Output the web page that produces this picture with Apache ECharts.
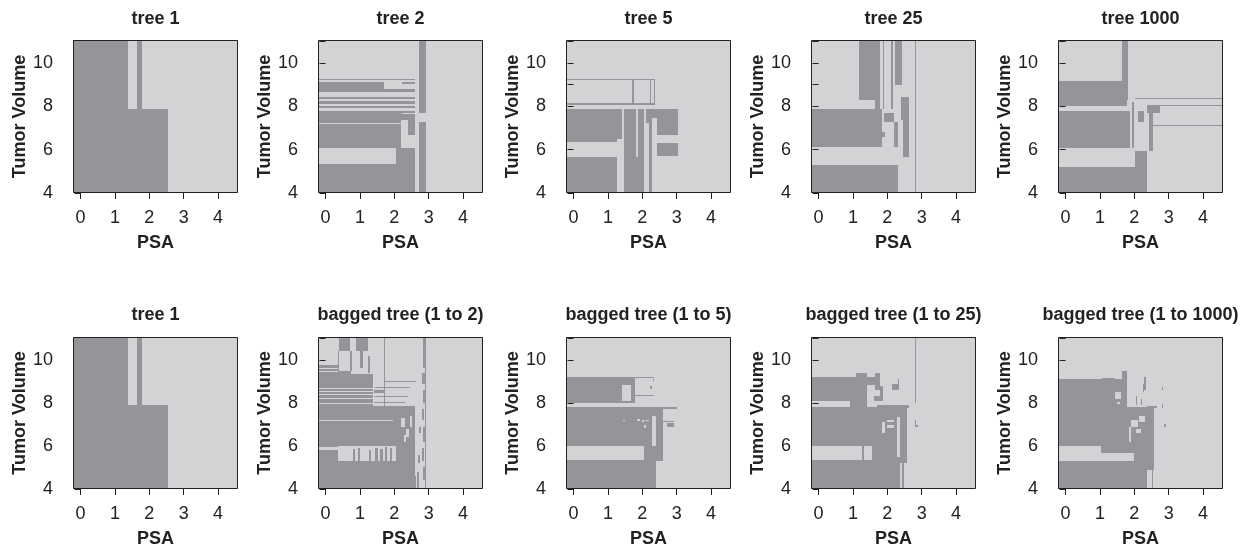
<!DOCTYPE html>
<html><head><meta charset="utf-8">
<script src="https://cdn.jsdelivr.net/npm/echarts@6/dist/echarts.min.js"></script>
<style>html,body{margin:0;padding:0;background:#fff}#chart{width:1250px;height:551px}</style>
</head><body><div id="chart"></div>
<script>
// ---------- data ----------
const panelTitles = ['tree 1', 'tree 2', 'tree 5', 'tree 25', 'tree 1000',
  'tree 1', 'bagged tree (1 to 2)', 'bagged tree (1 to 5)', 'bagged tree (1 to 25)', 'bagged tree (1 to 1000)'];
const xName = 'PSA';
const yName = 'Tumor Volume';
const xTickValues = [0, 1, 2, 3, 4];
const yTickValues = [4, 5, 6, 7, 8, 9, 10, 11];
const yLabelValues = [4, 6, 8, 10];

// regions: [psaFrom, psaTo, volumeFrom, volumeTo, class]  class 1 = dark, 0 = light (painted in order)
const tree1 = [
  [-0.3, 1.39, 4, 11.2, 1],
  [1.63, 1.78, 7.88, 11.2, 1],
  [1.39, 2.55, 4, 7.88, 1]
];
const tree2 = [
  [-0.3, 2.61, 4, 7.80, 1],
  [-0.3, 2.06, 5.33, 6.06, 0],
  [-0.3, 2.20, 7.19, 7.22, 0],
  [2.20, 2.40, 6.06, 7.37, 0],
  [2.20, 2.61, 6.06, 6.52, 0],
  [2.40, 2.61, 6.52, 6.68, 0],
  [2.23, 2.61, 7.64, 7.68, 0],
  [-0.3, 2.61, 7.90, 8.02, 1],
  [-0.3, 2.61, 8.11, 8.24, 1],
  [-0.3, 2.61, 8.33, 8.42, 1],
  [-0.3, 2.61, 8.64, 8.79, 1],
  [-0.3, 1.69, 8.79, 9.13, 1],
  [2.23, 2.61, 9.01, 9.13, 1],
  [-0.3, 2.61, 9.23, 9.27, 1],
  [2.72, 2.91, 7.68, 11.2, 1],
  [2.72, 2.91, 4, 7.29, 1]
];
const tree5 = [
  [-0.3, 2.38, 9.20, 9.27, 1],
  [-0.3, 2.38, 8.07, 8.13, 1],
  [2.33, 2.38, 8.07, 9.27, 1],
  [1.71, 1.75, 8.07, 9.27, 1],
  [2.21, 2.25, 8.07, 9.27, 1],
  [-0.3, 1.41, 6.47, 7.88, 1],
  [-0.3, 1.27, 6.35, 6.47, 1],
  [-0.3, 1.27, 4, 5.67, 1],
  [1.46, 2.05, 4, 7.88, 1],
  [1.82, 1.87, 5.67, 7.88, 0],
  [2.12, 3.05, 7.45, 7.88, 1],
  [2.12, 2.20, 7.25, 7.45, 1],
  [2.20, 2.27, 4, 7.45, 1],
  [2.44, 3.05, 6.68, 7.45, 1],
  [2.44, 3.05, 5.70, 6.32, 1]
];
const tree25 = [
  [1.19, 1.80, 8.30, 11.2, 1],
  [1.65, 1.80, 7.88, 8.30, 1],
  [1.87, 1.91, 7.88, 11.2, 1],
  [2.11, 2.16, 7.88, 11.2, 1],
  [2.23, 2.43, 8.99, 11.2, 1],
  [2.40, 2.62, 7.37, 8.41, 1],
  [2.46, 2.62, 5.67, 7.37, 1],
  [-0.3, 1.84, 6.13, 7.88, 1],
  [1.89, 2.20, 7.29, 7.71, 1],
  [1.84, 1.94, 6.60, 6.83, 1],
  [2.18, 2.30, 6.13, 7.29, 1],
  [-0.3, 2.30, 4, 5.31, 1],
  [2.805, 2.835, 4, 11.2, 1]
];
const tree1000 = [
  [1.64, 1.83, 9.18, 11.2, 1],
  [-0.3, 1.78, 8.02, 9.18, 1],
  [1.78, 1.83, 8.30, 9.18, 1],
  [-0.3, 1.87, 6.06, 7.79, 1],
  [1.92, 2.00, 6.06, 8.18, 1],
  [2.02, 2.36, 4, 5.93, 1],
  [-0.3, 2.36, 4, 5.21, 1],
  [2.12, 2.27, 7.29, 7.79, 1],
  [2.36, 2.75, 7.71, 8.07, 1],
  [2.43, 2.55, 5.95, 7.71, 1],
  [2.02, 4.70, 8.35, 8.40, 1],
  [2.75, 4.70, 8.05, 8.08, 1],
  [2.53, 4.70, 7.12, 7.16, 1]
];
const bagged2 = [
  [-0.3, 2.59, 4, 7.80, 1],
  [2.59, 2.64, 4, 4.6, 1],
  [0.36, 2.06, 5.28, 6.01, 0],
  [-0.3, 0.36, 5.82, 5.95, 0],
  [0.80, 0.86, 5.30, 5.85, 1],
  [0.95, 1.00, 5.30, 5.90, 1],
  [1.27, 1.32, 5.30, 5.80, 1],
  [1.45, 1.52, 5.30, 5.90, 1],
  [1.58, 1.66, 5.30, 5.85, 1],
  [1.72, 1.80, 5.30, 5.95, 1],
  [1.86, 1.92, 5.30, 5.90, 1],
  [-0.3, 1.96, 7.17, 7.21, 0],
  [2.20, 2.30, 6.90, 7.30, 0],
  [2.35, 2.42, 6.40, 6.80, 0],
  [2.47, 2.52, 6.90, 7.40, 0],
  [2.28, 2.34, 6.20, 6.50, 0],
  [-0.3, 1.38, 7.80, 9.23, 1],
  [-0.3, 1.38, 8.66, 8.70, 0],
  [-0.3, 1.38, 8.52, 8.57, 0],
  [-0.3, 1.38, 8.36, 8.40, 0],
  [-0.3, 1.38, 8.20, 8.24, 0],
  [-0.3, 1.38, 7.96, 8.00, 0],
  [1.38, 2.59, 7.80, 7.86, 1],
  [1.45, 2.45, 8.70, 8.74, 1],
  [1.45, 2.40, 8.30, 8.34, 1],
  [1.40, 2.30, 8.02, 8.06, 1],
  [1.72, 2.64, 8.98, 9.02, 1],
  [1.40, 1.70, 8.45, 8.60, 1],
  [1.70, 1.74, 7.80, 11.2, 1],
  [0.39, 0.70, 10.39, 11.2, 1],
  [0.89, 1.23, 10.39, 11.2, 1],
  [2.83, 2.91, 10.39, 11.2, 1],
  [-0.3, 0.36, 9.23, 9.77, 1],
  [-0.3, 0.36, 9.60, 9.64, 0],
  [-0.3, 0.36, 9.42, 9.46, 0],
  [0.36, 0.75, 9.23, 9.50, 1],
  [0.75, 1.38, 9.23, 9.35, 1],
  [0.70, 0.78, 9.50, 10.39, 1],
  [0.99, 1.08, 9.60, 10.39, 1],
  [1.23, 1.30, 9.40, 10.20, 1],
  [0.36, 0.39, 9.23, 10.39, 1],
  [2.82, 2.90, 9.60, 10.39, 1],
  [2.80, 2.88, 8.90, 9.40, 1],
  [2.84, 2.91, 8.00, 8.60, 1],
  [2.80, 2.87, 7.20, 7.70, 1],
  [2.82, 2.90, 6.20, 6.90, 1],
  [2.80, 2.86, 5.30, 5.90, 1],
  [2.84, 2.91, 4.40, 5.00, 1],
  [2.66, 2.72, 4.00, 4.80, 1],
  [2.70, 2.76, 5.20, 5.60, 1],
  [2.72, 2.78, 6.60, 6.90, 1],
  [2.89, 2.91, 4.00, 10.39, 1]
];
const bagged5 = [
  [-0.3, 1.76, 7.99, 9.20, 1],
  [1.41, 1.66, 8.11, 8.84, 0],
  [1.76, 2.35, 9.17, 9.22, 1],
  [1.77, 1.80, 7.99, 9.20, 1],
  [1.80, 2.35, 8.31, 8.35, 1],
  [2.22, 2.27, 8.65, 8.80, 1],
  [2.30, 2.33, 9.00, 9.10, 1],
  [-0.3, 2.59, 5.28, 7.83, 1],
  [-0.3, 2.05, 5.35, 6.00, 0],
  [2.27, 2.39, 6.00, 7.37, 0],
  [-0.3, 2.39, 4, 5.28, 1],
  [1.85, 1.92, 7.15, 7.25, 0],
  [1.98, 2.05, 7.10, 7.20, 0],
  [2.08, 2.18, 7.14, 7.20, 0],
  [2.05, 2.12, 6.85, 6.95, 0],
  [1.45, 1.50, 7.18, 7.22, 0],
  [2.59, 3.02, 7.71, 7.80, 1],
  [2.73, 2.93, 6.90, 7.05, 1],
  [2.59, 2.93, 7.10, 7.14, 1]
];
const bagged25 = [
  [2.805, 2.835, 7.99, 11.2, 1],
  [2.80, 2.83, 6.90, 7.20, 1],
  [2.83, 2.90, 6.90, 6.95, 1],
  [-0.3, 1.41, 8.07, 9.20, 1],
  [1.10, 1.41, 9.20, 9.41, 1],
  [1.41, 1.65, 8.84, 9.20, 1],
  [1.65, 1.80, 8.61, 9.41, 1],
  [0.92, 1.41, 7.83, 8.07, 1],
  [-0.3, 2.57, 5.33, 7.83, 1],
  [-0.3, 1.26, 5.33, 6.00, 0],
  [1.31, 1.55, 5.33, 6.00, 0],
  [-0.3, 2.38, 4, 5.33, 1],
  [2.38, 2.57, 5.20, 5.33, 1],
  [2.44, 2.48, 4, 5.33, 1],
  [1.85, 1.93, 6.60, 7.10, 0],
  [2.00, 2.20, 7.10, 7.20, 0],
  [2.00, 2.20, 6.85, 6.95, 0],
  [2.28, 2.36, 5.50, 7.35, 0],
  [1.80, 1.88, 8.10, 8.80, 1],
  [2.14, 2.33, 8.60, 8.90, 1],
  [2.30, 2.35, 8.90, 9.10, 1],
  [1.60, 1.80, 8.07, 8.30, 1],
  [1.70, 2.62, 7.78, 7.88, 1]
];
const bagged1000 = [
  [-0.3, 1.41, 6.00, 9.10, 1],
  [1.05, 1.45, 9.10, 9.17, 1],
  [1.41, 1.65, 8.60, 9.10, 1],
  [1.65, 1.80, 8.30, 9.50, 1],
  [1.41, 1.80, 7.83, 8.60, 1],
  [1.45, 1.60, 8.20, 8.50, 0],
  [1.50, 1.58, 7.95, 8.05, 0],
  [1.41, 2.38, 6.00, 7.83, 1],
  [1.90, 2.10, 6.90, 7.20, 0],
  [2.15, 2.30, 7.10, 7.40, 0],
  [2.05, 2.20, 6.60, 6.80, 0],
  [1.85, 1.90, 6.20, 6.90, 0],
  [2.36, 2.65, 7.78, 7.86, 1],
  [-0.3, 2.38, 5.30, 6.00, 1],
  [-0.3, 1.02, 5.64, 6.00, 0],
  [-0.3, 2.00, 5.30, 5.67, 0],
  [-0.3, 2.36, 4, 5.30, 1],
  [2.36, 2.56, 4.90, 7.83, 1],
  [2.50, 2.55, 4, 4.90, 1],
  [2.29, 2.34, 8.60, 9.20, 1],
  [2.25, 2.28, 8.50, 8.90, 1],
  [2.80, 2.84, 8.60, 8.75, 1],
  [2.80, 2.84, 7.75, 7.95, 1],
  [2.85, 2.92, 6.90, 7.00, 1],
  [2.05, 2.08, 7.90, 8.30, 1],
  [2.20, 2.23, 7.90, 8.20, 1]
];
const panelData = [tree1, tree2, tree5, tree25, tree1000, tree1, bagged2, bagged5, bagged25, bagged1000];

// ---------- layout / style ----------
const DARK = '#939598', LIGHT = '#d1d3d4', INK = '#222222';
const FONT = '"Liberation Sans", Arial, Helvetica, sans-serif';
const gridLefts = [73, 318, 566, 811, 1058];
const gridWidth = 165;
const gridTops = [40, 337];
const gridHeights = [153, 152];
const titleTops = [10, 306];

const chart = echarts.init(document.getElementById('chart'), null, {renderer: 'canvas'});

function renderRegion(params, api) {
  const p0 = api.coord([api.value(0), api.value(3)]);
  const p1 = api.coord([api.value(1), api.value(2)]);
  const cs = params.coordSys;
  const shape = echarts.graphic.clipRectByRect(
    {x: p0[0], y: p0[1], width: p1[0] - p0[0], height: p1[1] - p0[1]},
    {x: cs.x, y: cs.y, width: cs.width, height: cs.height});
  if (!shape) return;
  // snap to whole pixels so neighbouring regions meet without seams
  let x0 = Math.round(shape.x), x1 = Math.round(shape.x + shape.width);
  let y0 = Math.round(shape.y), y1 = Math.round(shape.y + shape.height);
  if (x1 - x0 < 1) x1 = x0 + 1;
  if (y1 - y0 < 1) y1 = y0 + 1;
  return {type: 'rect', shape: {x: x0, y: y0, width: x1 - x0, height: y1 - y0},
    style: {fill: api.value(4) ? DARK : LIGHT}};
}
function renderFrame(params) {
  const cs = params.coordSys;
  return {type: 'rect', shape: {x: cs.x + 0.5, y: cs.y + 0.5, width: cs.width - 1, height: cs.height - 1},
    style: {fill: null, stroke: INK, lineWidth: 1}};
}

const grid = [], xAxis = [], yAxis = [], series = [], title = [];
for (let i = 0; i < 10; i++) {
  const row = i < 5 ? 0 : 1, col = i % 5;
  grid.push({left: gridLefts[col], top: gridTops[row], width: gridWidth, height: gridHeights[row],
    show: true, backgroundColor: LIGHT, borderWidth: 0});
  title.push({text: panelTitles[i], left: gridLefts[col] + gridWidth / 2, top: titleTops[row],
    textAlign: 'center', padding: 0,
    textStyle: {fontFamily: FONT, fontSize: 18, fontWeight: 'bold', color: INK}});
  xAxis.push({gridIndex: i, type: 'value', min: -0.22, max: 4.58,
    axisLine: {show: false}, splitLine: {show: false},
    axisTick: {show: true, length: 6, customValues: xTickValues, lineStyle: {color: INK}},
    axisLabel: {customValues: xTickValues, fontFamily: FONT, fontSize: 18, color: INK, margin: 16},
    name: xName, nameLocation: 'middle', nameGap: 41,
    nameTextStyle: {fontFamily: FONT, fontSize: 18, fontWeight: 'bold', color: INK}});
  yAxis.push({gridIndex: i, type: 'value', min: 4, max: 11.06,
    axisLine: {show: false}, splitLine: {show: false},
    axisTick: {show: true, length: 6, customValues: yTickValues, lineStyle: {color: INK}},
    axisLabel: {customValues: yLabelValues, fontFamily: FONT, fontSize: 18, color: INK, margin: 20},
    name: yName, nameLocation: 'middle', nameGap: 44, nameRotate: 90,
    nameTextStyle: {fontFamily: FONT, fontSize: 18, fontWeight: 'bold', color: INK}});
  series.push({type: 'custom', xAxisIndex: i, yAxisIndex: i, renderItem: renderRegion,
    encode: {x: [0, 1], y: [2, 3]}, data: panelData[i], silent: true, z: 2});
  series.push({type: 'custom', xAxisIndex: i, yAxisIndex: i, renderItem: renderFrame,
    data: [[0, 4]], silent: true, z: 10});
}

chart.setOption({animation: false, backgroundColor: '#ffffff', title, grid, xAxis, yAxis, series});
</script>
</body></html>
